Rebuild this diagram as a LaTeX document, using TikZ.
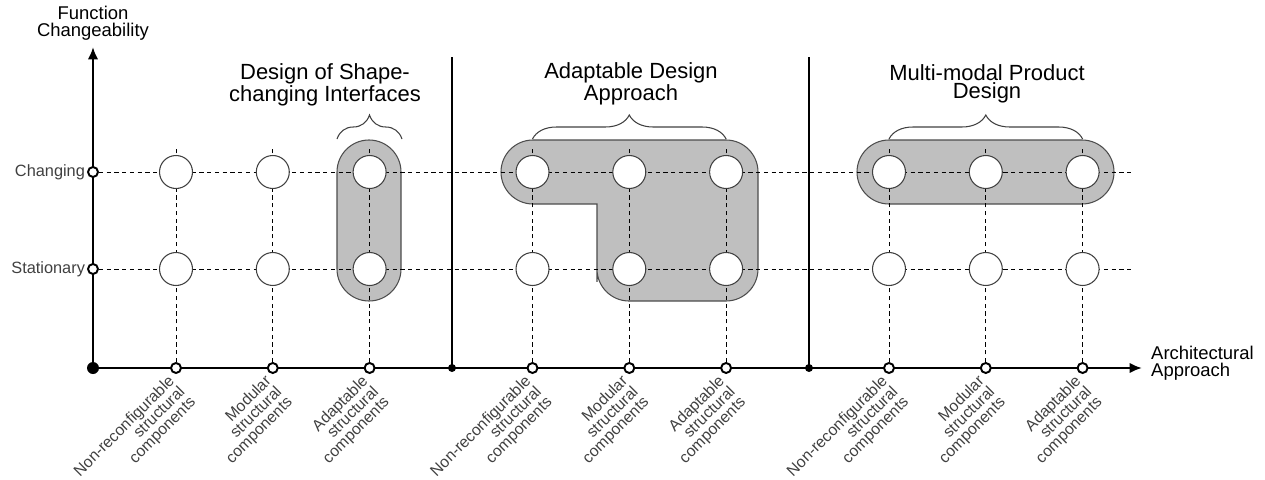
\documentclass[tikz,border=0pt]{standalone}
\usepackage{fontspec}
\setmainfont{Liberation Sans}
\usetikzlibrary{arrows.meta,backgrounds,decorations.pathreplacing}
\tikzset{
	big/.style={circle,draw=black!75,line width=0.6pt,fill=white,minimum size=0.66cm,inner sep=0pt},
	tick/.style={circle,draw,line width=1.1pt,fill=white,minimum size=0.2cm,inner sep=0pt},
	dot/.style={circle,fill,inner sep=0pt,minimum size=#1},
	grid/.style={dash pattern=on 2.4pt off 2pt,line width=0.5pt},
	blob/.style={draw=black!70,fill=black!25,line width=0.6pt},
	kind/.style={rotate=45,anchor=north east,align=right,inner sep=1pt,text=black!75,font=\fontsize{9}{8.5}\selectfont},
	level/.style={anchor=east,inner sep=1pt,text=black!75,font=\fontsize{9.3}{10}\selectfont},
	axlabel/.style={align=center,font=\fontsize{10.5}{9.8}\selectfont},
	head/.style={align=center,font=\fontsize{12.5}{10.5}\selectfont},
	curly/.style={decorate,decoration={brace,amplitude=0.48cm},draw=black!75,line width=0.6pt}
}
\begin{document}
\begin{tikzpicture}[x=0.02cm,y=-0.02cm,>={Latex[length=7pt,width=6pt]}]
	\useasboundingbox (0,0) rectangle (1265,480);
	\node[dot=0.24cm] (O) at (93,368) {};
	\coordinate (ytop) at (93,47);
	\coordinate (xend) at (1142,368);
	\node[tick] (yc) at (93,172) {};
	\node[tick] (ys) at (93,269) {};
	\coordinate (ec) at (1132,172);
	\coordinate (es) at (1132,269);
	\node[level] (lc) at (yc.west) {Changing};
	\node[level] (ls) at (ys.west) {Stationary};
	\node[axlabel] (fy) at (93,23) {Function\\Changeability};
	\node[axlabel,anchor=west,align=left] (fx) at (1145,363) {Architectural\\Approach};
	\node[dot=0.16cm] (d1) at (452,368) {};
	\node[dot=0.16cm] (d2) at (809,368) {};
	\coordinate (d1top) at (452,57);
	\coordinate (d2top) at (809,57);
	\foreach \g in {0,1,2}{
		\foreach \k/\kind in {1/Non-reconfigurable,2/Modular,3/Adaptable}{
			\pgfmathsetmacro\xx{176+356.5*\g+96.8*(\k-1)}
			\pgfmathtruncatemacro\n{3*\g+\k}
			\node[tick] (a\n) at (\xx,368) {};
			\node[big] (c\n) at (\xx,172) {};
			\node[big] (s\n) at (\xx,269) {};
			\coordinate (top\n) at (\xx,147);
			\path (a\n.center) ++(-9,3) node[kind] (l\n) {\kind\\structural\\components};
		}
	}
	\node[head] (hd1) at (325,85) {Design of Shape-\\changing Interfaces};
	\node[head] (hd2) at (631,84) {Adaptable Design\\Approach};
	\node[head] (hd3) at (987,84) {Multi-modal Product\\Design};
	\draw[curly] (337,139) -- (402,139);
	\draw[curly] (c4|-0,139) -- (c6|-0,139);
	\draw[curly] (c7|-0,139) -- (c9|-0,139);
	\begin{scope}[on background layer]
		\draw[blob,rounded corners=0.64cm] (337,140) rectangle (401,301);
		\draw[blob] (660,301) [rounded corners=0.64cm] -- (597,301) -- (597,250) [sharp corners] -- (597,204) -- (560,204) [rounded corners=0.64cm] -- (501,204) -- (501,140) -- (758,140) -- (758,301) -- cycle;
		\draw[blob,rounded corners=0.64cm] (857,140) rectangle (1114,204);
		\foreach \n in {1,...,9} \draw[grid] (a\n) -- (top\n);
		\draw[grid] (yc) -- (ec);
		\draw[grid] (ys) -- (es);
		\draw[line width=1.1pt] (d1.center) -- (d1top);
		\draw[line width=1.1pt] (d2.center) -- (d2top);
		\draw[->,line width=1.3pt] (O.center) -- (ytop);
		\draw[->,line width=1.3pt] (O.center) -- (xend);
	\end{scope}
\end{tikzpicture}
\end{document}
